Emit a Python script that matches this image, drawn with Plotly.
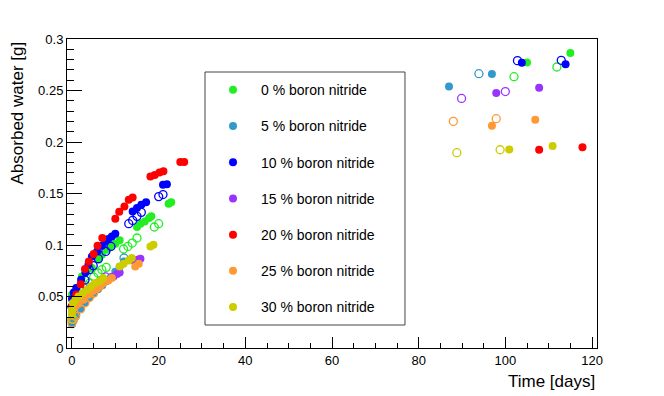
import plotly.graph_objects as go

# absorbed water [g] vs time [days], filled = sample A, open = sample B
labels = ["0 % boron nitride", "5 % boron nitride", "10 % boron nitride", "15 % boron nitride",
          "20 % boron nitride", "25 % boron nitride", "30 % boron nitride"]
colors = ["#22ee22", "#3399cc", "#0000ff", "#9933ff", "#ff0000", "#ff9933", "#cccc00"]

bn0_t = [0, 1.1, 2.3, 3.4, 4.6, 6.1, 6.9, 8.1, 8.8, 10.0, 11.0, 15.0, 15.8, 16.8, 17.8, 18.3, 22.3, 22.9, 105.0, 115.0]
bn0_w = [0.0518, 0.0583, 0.0695, 0.075, 0.0777, 0.0857, 0.0906, 0.0954, 0.098, 0.1013, 0.1045, 0.1175, 0.1207,
         0.1229, 0.1262, 0.1278, 0.140, 0.1414, 0.2773, 0.2864]
bn0_open_t = [1.0, 1.9, 3.1, 4.1, 5.0, 6.0, 6.9, 7.9, 11.9, 12.9, 13.9, 15.0, 19.0, 20.0, 102.0, 111.9]
bn0_open_w = [0.0479, 0.0576, 0.0608, 0.0631, 0.0689, 0.0728, 0.076, 0.0783, 0.0961, 0.0986, 0.1019, 0.1068,
              0.1175, 0.1207, 0.2634, 0.2728]

bn5_t = [0, 0.4, 1.0, 2.0, 3.0, 4.0, 5.0, 6.0, 7.0, 8.0, 9.0, 10.0, 11.0, 12.0, 87.0, 96.9]
bn5_w = [0.023, 0.027, 0.032, 0.038, 0.044, 0.049, 0.053, 0.057, 0.061, 0.065, 0.069, 0.074, 0.079, 0.084,
         0.254, 0.266]
bn5_open_t = [0, 12.0, 93.9]
bn5_open_w = [0.027, 0.0874, 0.2663]

bn10_t = [0, 0.4, 1.0, 2.1, 3.1, 3.8, 4.6, 5.8, 6.9, 7.7, 8.4, 9.2, 10.0, 14.0, 15.0, 16.0, 17.1, 21.0, 21.9,
          103.8, 113.9]
bn10_w = [0.0476, 0.054, 0.0583, 0.0663, 0.0734, 0.0809, 0.0889, 0.0938, 0.0993, 0.1035, 0.1058, 0.1083, 0.111,
          0.1326, 0.136, 0.139, 0.1414, 0.1585, 0.159, 0.277, 0.2754]
bn10_open_t = [0, 1.0, 2.0, 3.0, 4.0, 4.9, 6.1, 7.8, 9.0, 13.1, 14.0, 15.0, 16.0, 20.0, 21.0, 102.8, 112.9]
bn10_open_w = [0.040, 0.047, 0.056, 0.066, 0.076, 0.0799, 0.0867, 0.0938, 0.0986, 0.1207, 0.1239, 0.1278,
               0.1317, 0.147, 0.149, 0.279, 0.2793]

bn15_t = [0.2, 0.8, 1.9, 3.1, 4.1, 5.0, 6.1, 7.3, 9.6, 10.4, 11.0, 14.2, 15.1, 15.8, 97.9, 107.8]
bn15_w = [0.0404, 0.0427, 0.0476, 0.0527, 0.0583, 0.0608, 0.0631, 0.0663, 0.0695, 0.0718, 0.0734, 0.085,
          0.0857, 0.0867, 0.2476, 0.2527]
bn15_open_t = [6.0, 7.0, 7.8, 89.9, 100.0]
bn15_open_w = [0.063, 0.066, 0.069, 0.2423, 0.249]

bn20_t = [0, 0.4, 1.0, 2.0, 3.0, 3.9, 5.0, 5.9, 7.0, 10.0, 10.9, 12.1, 13.1, 14.0, 18.1, 19.1, 20.2, 21.1,
          25.0, 25.9, 107.8, 117.8]
bn20_w = [0.040, 0.044, 0.052, 0.062, 0.0767, 0.084, 0.0913, 0.0993, 0.1068, 0.1255, 0.1323, 0.1375, 0.144,
          0.1462, 0.1666, 0.168, 0.1705, 0.1715, 0.1806, 0.1806, 0.1925, 0.1948]

bn25_t = [0, 0.8, 1.5, 2.7, 3.8, 4.8, 5.8, 6.5, 7.3, 8.4, 9.2, 14.6, 15.4, 96.9, 106.9]
bn25_w = [0.0365, 0.0404, 0.043, 0.0469, 0.0517, 0.055, 0.0576, 0.0598, 0.0631, 0.0656, 0.068, 0.0792,
          0.0818, 0.2158, 0.2216]
bn25_open_t = [0, 0.3, 0.8, 2.0, 3.0, 4.0, 5.0, 88.0, 97.9]
bn25_open_w = [0.0243, 0.028, 0.0307, 0.038, 0.044, 0.049, 0.0534, 0.22, 0.2226]

bn30_t = [0, 0, 0.2, 0.8, 1.5, 2.5, 3.5, 4.4, 5.4, 6.4, 7.2, 11.0, 11.9, 13.1, 13.8, 18.1, 18.8, 100.9, 110.9]
bn30_w = [0.0323, 0.0372, 0.0437, 0.0469, 0.0501, 0.0534, 0.0566, 0.0598, 0.0631, 0.0647, 0.068, 0.0792,
          0.0818, 0.085, 0.0874, 0.0986, 0.1003, 0.1928, 0.1961]
bn30_open_t = [0, 88.8, 98.8]
bn30_open_w = [0.028, 0.1896, 0.1925]

filled = [(bn0_t, bn0_w), (bn5_t, bn5_w), (bn10_t, bn10_w), (bn15_t, bn15_w),
          (bn20_t, bn20_w), (bn25_t, bn25_w), (bn30_t, bn30_w)]
opened = [(bn0_open_t, bn0_open_w), (bn5_open_t, bn5_open_w), (bn10_open_t, bn10_open_w),
          (bn15_open_t, bn15_open_w), ([], []), (bn25_open_t, bn25_open_w), (bn30_open_t, bn30_open_w)]

font = "Liberation Sans, Arial, Helvetica, sans-serif"

fig = go.Figure()
for i in range(len(labels)):
    ot, ow = opened[i]
    fig.add_trace(go.Scatter(x=ot, y=ow, mode="markers", showlegend=False, legendgroup=labels[i],
                             marker=dict(symbol="circle-open", size=8, color=colors[i], line=dict(width=1.3))))
    ft, fw = filled[i]
    fig.add_trace(go.Scatter(x=ft, y=fw, mode="markers", name=labels[i], legendgroup=labels[i],
                             marker=dict(symbol="circle", size=8, color=colors[i])))

# legend frame
fig.add_shape(type="rect", xref="paper", yref="paper", x0=0.2604, x1=0.6377, y0=0.0744, y1=0.8932,
              line=dict(color="#444444", width=1), fillcolor="white", layer="above")

fig.add_annotation(text="Time [days]", xref="paper", yref="paper", x=1.0, y=-0.107, xanchor="right",
                   yanchor="middle", showarrow=False, font=dict(size=17, color="black", family=font))
fig.add_annotation(text="Absorbed water [g]", xref="paper", yref="paper", x=-0.0925, y=1.0, xanchor="center",
                   yanchor="top", textangle=-90, showarrow=False, font=dict(size=17, color="black", family=font))

fig.update_layout(
    width=664, height=396,
    margin=dict(l=67, r=67, t=39, b=48),
    paper_bgcolor="white", plot_bgcolor="white",
    font=dict(family=font, color="black", size=13),
    legend=dict(x=0.2604, xanchor="left", y=0.886, yanchor="top", bgcolor="rgba(0,0,0,0)",
                borderwidth=0, itemwidth=46, tracegroupgap=15, font=dict(size=14, family=font)),
)
fig.update_xaxes(range=[-1.15, 121.15], dtick=20, tick0=0, ticks="inside", ticklen=11, tickcolor="black",
                 showline=True, linecolor="black", mirror=True, showgrid=False, zeroline=False,
                 minor=dict(dtick=5, ticks="inside", ticklen=5, tickcolor="black"))
fig.update_yaxes(range=[0, 0.3], dtick=0.05, tick0=0, ticks="inside", ticklen=15, tickcolor="black",
                 showline=True, linecolor="black", mirror=True, showgrid=False, zeroline=False,
                 minor=dict(dtick=0.01, ticks="inside", ticklen=7, tickcolor="black"))

fig.write_html("out.html", config={"displayModeBar": False},
               post_script="document.body.style.margin='0';")
